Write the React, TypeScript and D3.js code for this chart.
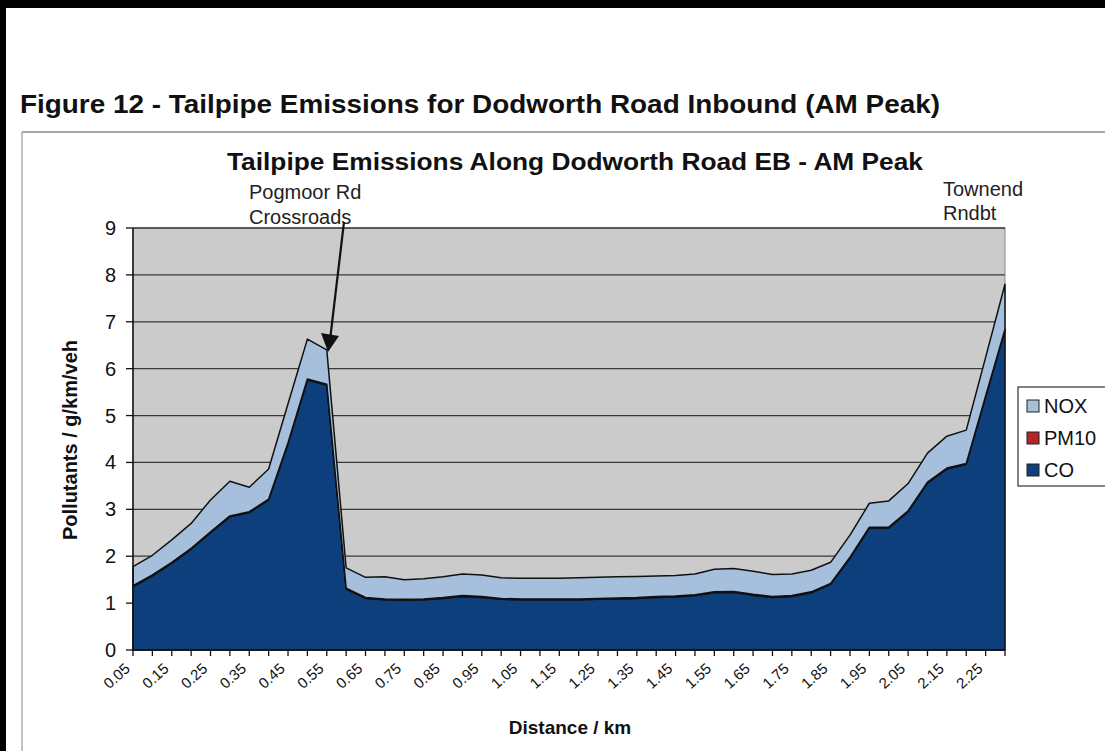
import React from "react";
import * as d3 from "d3";

const distances = [
  "0.05","0.10","0.15","0.20","0.25","0.30","0.35","0.40","0.45","0.50",
  "0.55","0.60","0.65","0.70","0.75","0.80","0.85","0.90","0.95","1.00",
  "1.05","1.10","1.15","1.20","1.25","1.30","1.35","1.40","1.45","1.50",
  "1.55","1.60","1.65","1.70","1.75","1.80","1.85","1.90","1.95","2.00",
  "2.05","2.10","2.15","2.20","2.25","2.30",
];
const tickLabels = [
  "0.05","0.15","0.25","0.35","0.45","0.55","0.65","0.75","0.85","0.95",
  "1.05","1.15","1.25","1.35","1.45","1.55","1.65","1.75","1.85","1.95",
  "2.05","2.15","2.25",
];
const coValues = [
  1.35,1.58,1.85,2.15,2.50,2.84,2.93,3.20,4.40,5.76,
  5.65,1.30,1.10,1.07,1.06,1.07,1.10,1.14,1.12,1.08,
  1.07,1.07,1.07,1.07,1.08,1.09,1.10,1.12,1.13,1.16,
  1.22,1.23,1.17,1.12,1.14,1.22,1.40,1.96,2.60,2.60,
  2.95,3.56,3.86,3.96,5.40,6.82,
];
const pm10Values = [
  0.02,0.02,0.02,0.02,0.02,0.02,0.02,0.02,0.02,0.02,
  0.02,0.02,0.02,0.02,0.02,0.02,0.02,0.02,0.02,0.02,
  0.02,0.02,0.02,0.02,0.02,0.02,0.02,0.02,0.02,0.02,
  0.02,0.02,0.02,0.02,0.02,0.02,0.02,0.02,0.02,0.02,
  0.02,0.02,0.02,0.02,0.02,0.02,
];
const noxValues = [
  0.41,0.42,0.48,0.53,0.68,0.74,0.52,0.64,0.83,0.85,
  0.73,0.43,0.43,0.47,0.42,0.43,0.44,0.46,0.46,0.44,
  0.44,0.44,0.44,0.45,0.45,0.45,0.45,0.44,0.44,0.44,
  0.48,0.49,0.49,0.47,0.46,0.46,0.45,0.47,0.51,0.56,
  0.58,0.62,0.68,0.71,0.82,0.96,
];
const yTicks = [0, 1, 2, 3, 4, 5, 6, 7, 8, 9];
const seriesKeys = ["CO", "PM10", "NOX"];
const legendItems = ["NOX", "PM10", "CO"];
const colors: Record<string, string> = {
  CO: "#0e3f7d",
  PM10: "#b3262a",
  NOX: "#a5bfdc",
};

export default function App() {
  const W = 1105, H = 751;
  const left = 133, right = 1005, top = 228, bottom = 650;
  const font = "'Liberation Sans', Arial, sans-serif";

  const rows = distances.map((d, i) => ({
    d,
    CO: coValues[i],
    PM10: pm10Values[i],
    NOX: noxValues[i],
  }));

  const x = d3.scalePoint<string>().domain(distances).range([left, right]);
  const y = d3.scaleLinear().domain([0, 9]).range([bottom, top]);

  const stack = d3.stack<any>().keys(seriesKeys);
  const layers = stack(rows);
  const area = d3
    .area<any>()
    .x((p: any) => x(p.data.d) as number)
    .y0((p: any) => y(p[0]))
    .y1((p: any) => y(p[1]));

  return (
    <svg
      width={W}
      height={H}
      style={{ position: "absolute", left: 0, top: 0, background: "#fff" }}
      fontFamily={font}
    >
      {/* scan border */}
      <rect x={0} y={0} width={W} height={8} fill="#000" />
      <rect x={0} y={0} width={6} height={H} fill="#000" />

      {/* figure caption */}
      <text
        x={20}
        y={113}
        fontSize={25}
        fontWeight="bold"
        fill="#111"
        textLength={920}
        lengthAdjust="spacingAndGlyphs"
      >
        Figure 12 - Tailpipe Emissions for Dodworth Road Inbound (AM Peak)
      </text>

      {/* chart area border */}
      <line x1={22} y1={132} x2={W} y2={132} stroke="#8a8a8a" strokeWidth={1.5} />
      <line x1={22} y1={132} x2={22} y2={H} stroke="#9a9a9a" strokeWidth={1.2} />

      {/* chart title */}
      <text
        x={227}
        y={170}
        fontSize={23}
        fontWeight="bold"
        fill="#111"
        textLength={696}
        lengthAdjust="spacingAndGlyphs"
      >
        Tailpipe Emissions Along Dodworth Road EB - AM Peak
      </text>

      {/* plot background */}
      <rect
        x={left}
        y={top}
        width={right - left}
        height={bottom - top}
        fill="#cbcbcb"
        stroke="#8a8a8a"
        strokeWidth={1}
      />

      {/* gridlines */}
      {yTicks
        .filter((t) => t > 0)
        .map((t) => (
          <line
            key={"g" + t}
            x1={left}
            x2={right}
            y1={y(t)}
            y2={y(t)}
            stroke="#3a3a3a"
            strokeWidth={1.3}
          />
        ))}

      {/* stacked areas */}
      {layers.map((layer: any) => (
        <path
          key={layer.key}
          d={area(layer) || ""}
          fill={colors[layer.key]}
          stroke="#111"
          strokeWidth={1.5}
          strokeLinejoin="round"
        />
      ))}

      {/* axes */}
      <line x1={left} x2={left} y1={top} y2={bottom} stroke="#111" strokeWidth={1.5} />
      <line x1={left} x2={right} y1={bottom} y2={bottom} stroke="#111" strokeWidth={1.5} />

      {yTicks.map((t) => (
        <g key={"y" + t}>
          <line x1={left - 7} x2={left} y1={y(t)} y2={y(t)} stroke="#111" strokeWidth={1.3} />
          <text
            x={left - 17}
            y={y(t)}
            fontSize={20}
            textAnchor="end"
            dominantBaseline="central"
            fill="#111"
          >
            {t}
          </text>
        </g>
      ))}

      {distances.map((d) => (
        <line
          key={"xt" + d}
          x1={x(d) as number}
          x2={x(d) as number}
          y1={bottom}
          y2={bottom + 6}
          stroke="#111"
          strokeWidth={1.3}
        />
      ))}
      {tickLabels.map((d) => {
        const px = (x(d) as number) - 2;
        const py = bottom + 20;
        return (
          <text
            key={"xl" + d}
            x={px}
            y={py}
            fontSize={15}
            textAnchor="end"
            fill="#111"
            transform={`rotate(-42 ${px} ${py})`}
          >
            {d}
          </text>
        );
      })}

      {/* axis titles */}
      <text
        x={0}
        y={0}
        fontSize={20}
        fontWeight="bold"
        textAnchor="middle"
        fill="#111"
        transform={`translate(77 ${(top + bottom) / 2 + 1}) rotate(-90)`}
      >
        Pollutants / g/km/veh
      </text>
      <text
        x={570}
        y={734}
        fontSize={19}
        fontWeight="bold"
        textAnchor="middle"
        fill="#111"
      >
        Distance / km
      </text>

      {/* annotations */}
      <text x={249} y={199} fontSize={20} fill="#222">Pogmoor Rd</text>
      <text x={249} y={224} fontSize={20} fill="#222">Crossroads</text>
      <line x1={344} y1={222} x2={330.5} y2={336} stroke="#111" strokeWidth={2.2} />
      <path d="M321,333 L339,336 L328,352 Z" fill="#111" />

      <text x={943} y={196} fontSize={20} fill="#222">Townend</text>
      <text x={943} y={220} fontSize={20} fill="#222">Rndbt</text>

      {/* legend */}
      <rect x={1018} y={387} width={100} height={99} fill="#fff" stroke="#333" strokeWidth={1.2} />
      {legendItems.map((k, i) => {
        const cy = 406 + i * 32;
        return (
          <g key={"lg" + k}>
            <rect
              x={1027}
              y={cy - 6}
              width={12}
              height={12}
              fill={colors[k]}
              stroke="#222"
              strokeWidth={1}
            />
            <text x={1044} y={cy} fontSize={20} dominantBaseline="central" fill="#111">
              {k}
            </text>
          </g>
        );
      })}
    </svg>
  );
}
